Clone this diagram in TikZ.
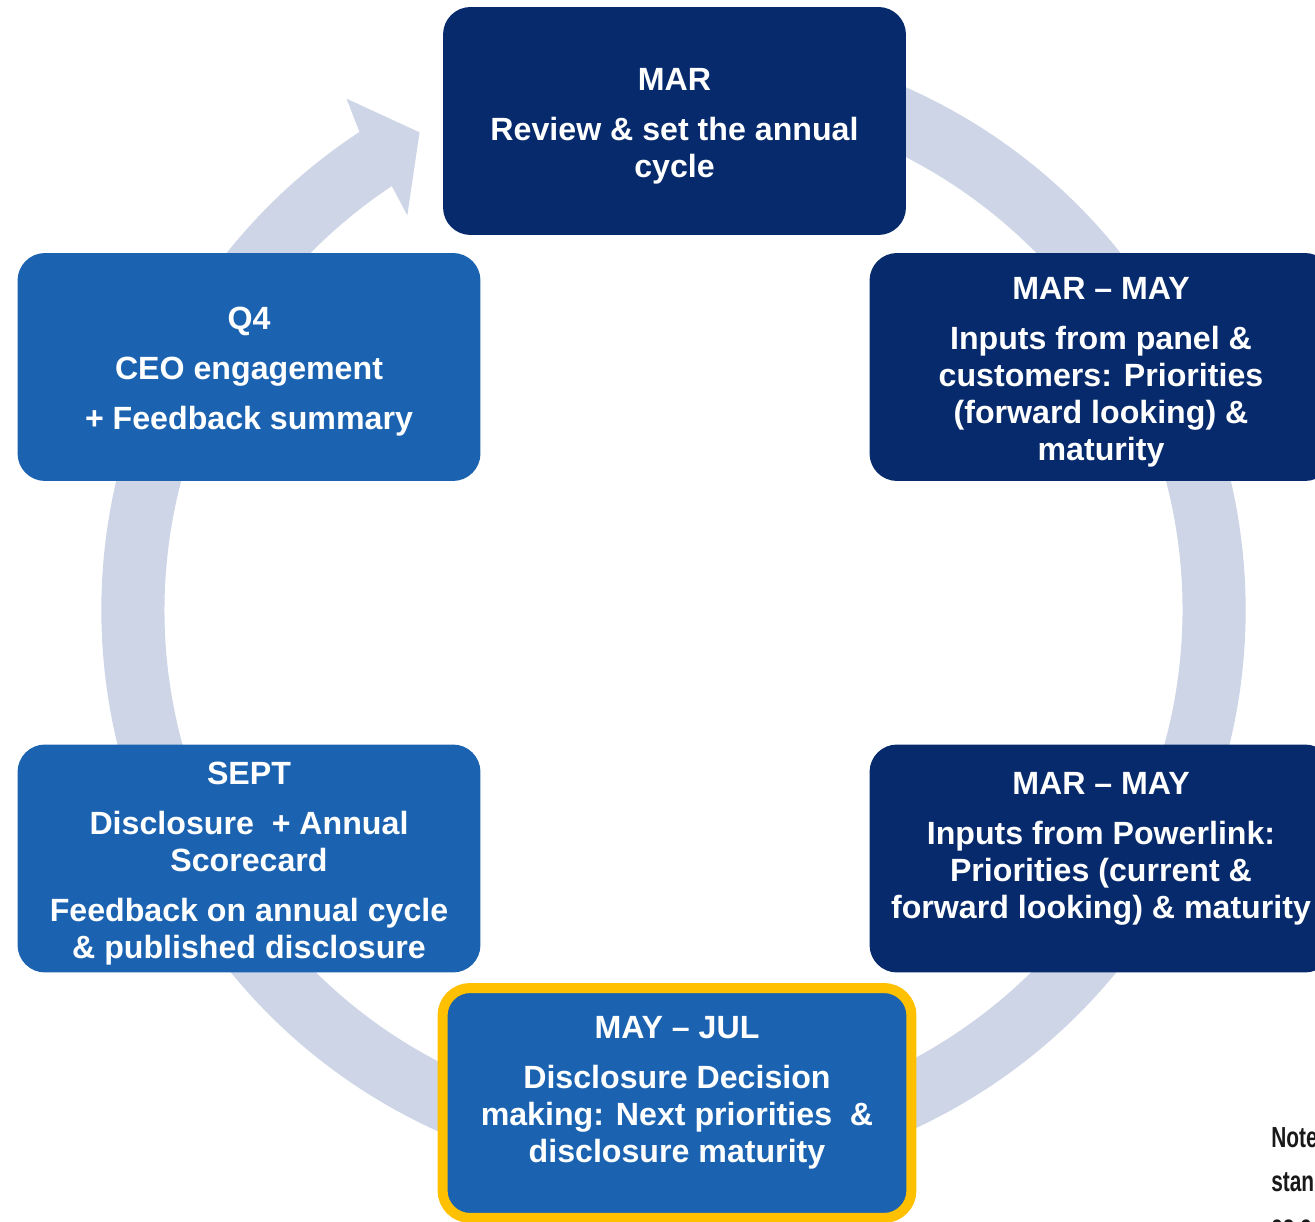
\documentclass[tikz,border=0pt]{standalone}
\usepackage{fontspec}
\setmainfont{Liberation Sans}
\definecolor{navy}{RGB}{6,42,107}
\definecolor{stepblue}{RGB}{27,99,177}
\definecolor{gold}{RGB}{255,192,0}
\definecolor{ringgrey}{RGB}{205,213,230}

\begin{document}
\begin{tikzpicture}[
    x=0.02cm, y=0.02cm,
    stepbox/.style={rounded corners=0.55cm, minimum width=9.26cm, minimum height=4.56cm, align=center, text=white, inner sep=0pt,
        font=\fontsize{18.3}{21}\selectfont\bfseries},
    navybox/.style={stepbox, fill=navy},
    bluebox/.style={stepbox, fill=stepblue},
    keybox/.style={stepbox, fill=stepblue, draw=gold, line width=5.7pt, minimum width=9.38cm, minimum height=4.6cm},
    notetext/.style={align=left, inner sep=0pt, text=black!90, xscale=0.72, transform shape,
        font=\fontsize{16.5}{25}\selectfont\bfseries}
]
    \useasboundingbox (0,0) rectangle (1315,-1222);
    \clip (0,0) rectangle (1315,-1222);

    % the cycle arrow behind the boxes
    \begin{scope}[shift={(673.5,-610)}]
        \fill[ringgrey] (70:572) arc[start angle=70, end angle=-236.7, radius=572]
            -- (122.6:607) -- (118:541) -- (124:476) -- (123.6:509)
            arc[start angle=123.6, end angle=430, radius=509] -- cycle;
    \end{scope}

    % \rule in the first line keeps the text a little lower in its box
    \node[navybox] (review) at (674.5,-121)
        {\rule{0pt}{18.5pt}MAR\\[7.5pt]Review \& set the annual\\cycle};
    \node[navybox] (panel) at (1101,-367)
        {\rule{0pt}{18.5pt}MAR -- MAY\\[7.5pt]Inputs from panel \&\\customers: Priorities\\(forward looking) \&\\maturity};
    \node[navybox] (powerlink) at (1101,-858.5)
        {\rule{0pt}{18.5pt}MAR -- MAY\\[7.5pt]Inputs from Powerlink:\\Priorities (current \&\\forward looking) \& maturity\\\mbox{}};
    \node[keybox] (decision) at (677,-1103)
        {\rule{0pt}{18.5pt}MAY -- JUL\\[7.5pt]Disclosure Decision\\making: Next priorities~ \&\\disclosure maturity\\\mbox{}};
    \node[bluebox] (disclosure) at (249,-858.5)
        {\rule{0pt}{18.5pt}SEPT\\[7.5pt]Disclosure~ + Annual\\Scorecard\\[7.5pt]Feedback on annual cycle\\\& published disclosure};
    \node[bluebox] (ceo) at (249,-367)
        {\rule{0pt}{18.5pt}Q4\\[7.5pt]CEO engagement\\[7.5pt]+ Feedback summary};

    \node[notetext, anchor=north west] (note) at (1271,-1127) {Note\\stan\\as a};
\end{tikzpicture}
\end{document}
